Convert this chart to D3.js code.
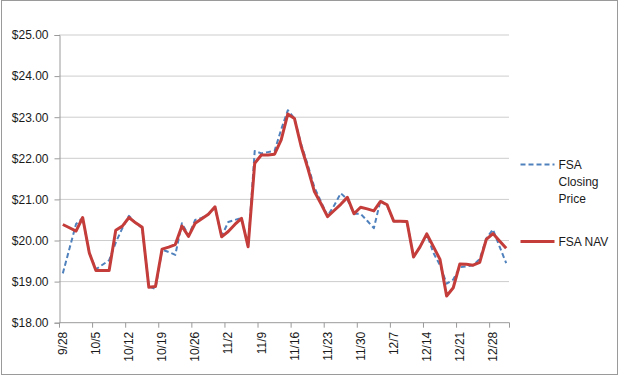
<!DOCTYPE html>
<html>
<head>
<meta charset="utf-8">
<script src="https://cdn.jsdelivr.net/npm/d3@7"></script>
<style>
  html, body { margin: 0; padding: 0; background: #fff; }
  svg text { font-family: "Liberation Sans", Arial, sans-serif; font-size: 12px; fill: #1a1a1a; }
</style>
</head>
<body>
<div id="chart"></div>
<script>
// trading days, 2009
const DAYS = [
  "9/28","9/29","9/30","10/1","10/2",
  "10/5","10/6","10/7","10/8","10/9",
  "10/12","10/13","10/14","10/15","10/16",
  "10/19","10/20","10/21","10/22","10/23",
  "10/26","10/27","10/28","10/29","10/30",
  "11/2","11/3","11/4","11/5","11/6",
  "11/9","11/10","11/11","11/12","11/13",
  "11/16","11/17","11/18","11/19","11/20",
  "11/23","11/24","11/25","11/26","11/27",
  "11/30","12/1","12/2","12/3","12/4",
  "12/7","12/8","12/9","12/10","12/11",
  "12/14","12/15","12/16","12/17","12/18",
  "12/21","12/22","12/23","12/24","12/25",
  "12/28","12/29","12/30"
];

const TICK_LABELS = ["9/28","10/5","10/12","10/19","10/26","11/2","11/9","11/16","11/23","11/30","12/7","12/14","12/21","12/28"];

const CLOSING_PRICE = [
  19.20, 19.80, 20.40, 20.55, 19.70,
  19.30, 19.41, 19.52, 19.95, 20.30,
  20.60, 20.43, 20.30, 18.88, 18.82,
  19.78, 19.72, 19.65, 20.42, 20.12,
  20.50, 20.55, 20.64, 20.80, 20.10,
  20.45, 20.50, 20.55, 19.85, 22.18,
  22.12, 22.15, 22.18, 22.70, 23.17,
  22.97, 22.35, 21.85, 21.30, 20.95,
  20.60, 20.85, 21.15, 21.00, 20.65,
  20.65, 20.48, 20.30, 20.97, 20.85,
  20.47, 20.47, 20.46, 19.60, 19.85,
  20.16, 19.70, 19.40, 18.95, 19.05,
  19.35, 19.37, 19.40, 19.55, 20.05,
  20.27, 19.85, 19.45
];

const NAV = [
  20.39, 20.31, 20.23, 20.56, 19.70,
  19.27, 19.27, 19.27, 20.25, 20.35,
  20.56, 20.43, 20.32, 18.86, 18.88,
  19.79, 19.84, 19.90, 20.35, 20.10,
  20.42, 20.53, 20.64, 20.82, 20.09,
  20.22, 20.39, 20.54, 19.85, 21.88,
  22.08, 22.08, 22.10, 22.45, 23.08,
  22.97, 22.30, 21.77, 21.20, 20.90,
  20.58, 20.73, 20.88, 21.05, 20.65,
  20.81, 20.77, 20.72, 20.95, 20.87,
  20.47, 20.47, 20.46, 19.60, 19.85,
  20.16, 19.85, 19.54, 18.65, 18.85,
  19.43, 19.42, 19.40, 19.47, 20.03,
  20.17, 19.99, 19.81
];

const Y_TICKS = [18, 19, 20, 21, 22, 23, 24, 25];

const SERIES = [
  { name: ["FSA", "Closing", "Price"], values: CLOSING_PRICE, color: "#4f81bd", width: 2, dash: "5,3" },
  { name: ["FSA NAV"], values: NAV, color: "#c43d3b", width: 3, dash: null }
];

const W = 620, H = 376;
const plot = { left: 59.5, right: 509.5, top: 35, bottom: 322.7 };

const svg = d3.select("#chart").append("svg")
  .attr("width", W).attr("height", H);

// outer chart border
svg.append("rect")
  .attr("x", 1.5).attr("y", 0.5)
  .attr("width", 616).attr("height", 374)
  .attr("fill", "none").attr("stroke", "#9a9a9a");

const x = d3.scaleBand().domain(DAYS).range([plot.left, plot.right]).paddingInner(0).paddingOuter(0);
const y = d3.scaleLinear().domain([18, 25]).range([plot.bottom, plot.top]);
const cx = d => x(d) + x.bandwidth() / 2;

// gridlines + y axis labels
const yAxis = d3.axisLeft(y).tickValues(Y_TICKS).tickSize(5).tickPadding(6).tickFormat(d => "$" + d3.format(".2f")(d));
const gy = svg.append("g").attr("transform", `translate(${plot.left},0)`).call(yAxis);
gy.select(".domain").attr("stroke", "#9a9a9a");
gy.selectAll(".tick line").attr("stroke", "#9a9a9a");
gy.selectAll(".tick text").attr("font-size", null).attr("font-family", null).attr("fill", null);

svg.append("g").selectAll("line")
  .data(Y_TICKS.filter(v => v > 18))
  .join("line")
  .attr("x1", plot.left).attr("x2", plot.right)
  .attr("y1", d => y(d)).attr("y2", d => y(d))
  .attr("stroke", "#9a9a9a").attr("stroke-dasharray", "1,1");

// x axis
const xAxisG = svg.append("g");
xAxisG.append("line")
  .attr("x1", plot.left).attr("x2", plot.right)
  .attr("y1", plot.bottom).attr("y2", plot.bottom)
  .attr("stroke", "#9a9a9a");

xAxisG.selectAll("line.tick")
  .data(TICK_LABELS.concat([null]))
  .join("line")
  .attr("class", "tick")
  .attr("x1", d => d ? x(d) : plot.right)
  .attr("x2", d => d ? x(d) : plot.right)
  .attr("y1", plot.bottom).attr("y2", plot.bottom + 5)
  .attr("stroke", "#9a9a9a");

xAxisG.selectAll("text")
  .data(TICK_LABELS)
  .join("text")
  .attr("transform", d => `translate(${cx(d)},${plot.bottom + 9}) rotate(-90)`)
  .attr("text-anchor", "end")
  .attr("dy", "0.35em")
  .text(d => d);

// lines
const line = vals => d3.line()
  .x((v, i) => cx(DAYS[i]))
  .y(v => y(v))(vals);

svg.append("g").selectAll("path")
  .data(SERIES)
  .join("path")
  .attr("d", s => line(s.values))
  .attr("fill", "none")
  .attr("stroke", s => s.color)
  .attr("stroke-width", s => s.width)
  .attr("stroke-dasharray", s => s.dash)
  .attr("stroke-linejoin", "round");

// legend
const legendY = [164.5, 241.5];
const legend = svg.append("g").selectAll("g")
  .data(SERIES)
  .join("g")
  .attr("transform", (s, i) => `translate(520.5,${legendY[i]})`);

legend.append("line")
  .attr("x1", 0).attr("x2", 34)
  .attr("stroke", s => s.color)
  .attr("stroke-width", s => s.width)
  .attr("stroke-dasharray", s => s.dash);

legend.append("text")
  .attr("x", 38)
  .selectAll("tspan")
  .data(s => s.name)
  .join("tspan")
  .attr("x", 38)
  .attr("y", (t, i) => i * 17)
  .attr("dy", "0.35em")
  .text(t => t);
</script>
</body>
</html>
